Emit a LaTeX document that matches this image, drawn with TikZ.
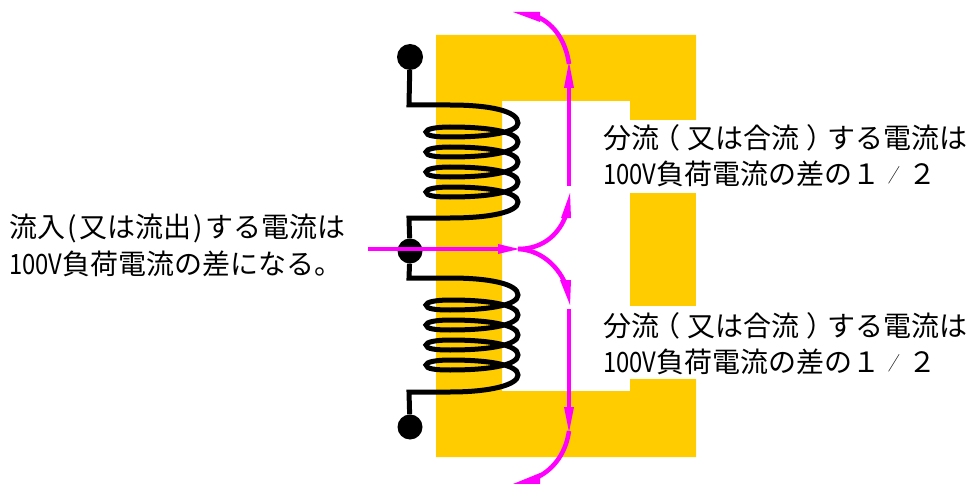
\documentclass[tikz,border=0pt]{standalone}
\usepackage{fontspec}
\setmainfont{Noto Sans CJK JP}
\usetikzlibrary{arrows.meta}
\definecolor{coreY}{HTML}{FFCC00}
\definecolor{flowM}{HTML}{FF00FF}
\newcommand{\nv}[1]{\scalebox{0.85}[1]{#1}}
\newcommand{\flp}{\makebox[28pt][l]{\hspace{-7pt}（}}
\newcommand{\frp}{\makebox[28pt][l]{\hspace{7pt}）}}
\newcommand{\fsl}{\makebox[28pt][c]{\raisebox{2pt}{\scalebox{0.42}[0.68]{／}}}}
\newcommand{\hp}[1]{\makebox[14pt][c]{#1}}
\tikzset{
 x=1pt,y=-1pt,
 core/.style={fill=coreY,draw=none},
 wire/.style={draw=black,line width=5pt,line join=miter},
 term/.style={circle,fill=black,minimum size=25pt,inner sep=0pt},
 flow/.style={draw=flowM,line width=4.5pt},
 fhead/.style={fill=flowM,draw=none},
 lbl/.style={align=left,anchor=north west,inner sep=0pt,font=\fontsize{28pt}{36.5pt}\selectfont,text=black},
}
\begin{document}
\begin{tikzpicture}
\useasboundingbox (0,0) rectangle (972,484);
% core
\fill[core] (436,35) -- (696,35) -- (696,120) -- (630,120) -- (630,101) -- (502,101) -- (502,391) -- (630,391) -- (630,379) -- (696,379) -- (696,457) -- (436,457) -- cycle;
\fill[core] (630,193) rectangle (696,306);
% terminals
\node[term,minimum size=26pt] (t1) at (410,57) {};
\node[term] (t2) at (410,251) {};
\node[term] (t3) at (410,427) {};
% upper coil
\draw[wire] (t1) -- (409,105) -- (450,105)
 .. controls (490,105) and (518,111) .. (518,123)
 .. controls (518,132) and (490,137) .. (450,137)
 .. controls (436,137) and (426,136) .. (426,132)
 .. controls (426,129) and (436,127) .. (450,127)
 .. controls (490,127) and (518,132) .. (518,142)
 .. controls (518,152) and (490,157) .. (450,157)
 .. controls (436,157) and (426,156) .. (426,152)
 .. controls (426,149) and (436,147) .. (450,147)
 .. controls (490,147) and (518,152) .. (518,162)
 .. controls (518,172) and (490,177) .. (450,177)
 .. controls (436,177) and (426,176) .. (426,172)
 .. controls (426,169) and (436,167) .. (450,167)
 .. controls (490,167) and (518,172) .. (518,182)
 .. controls (518,192) and (490,197) .. (450,197)
 .. controls (436,197) and (426,196) .. (426,192)
 .. controls (426,189) and (436,187) .. (450,187)
 .. controls (490,187) and (518,192) .. (518,202)
 .. controls (518,212) and (490,218) .. (450,218)
 -- (409,218) -- (t2);
% lower coil
\draw[wire] (t2) -- (409,278) -- (450,278)
 .. controls (490,278) and (518,284) .. (518,295)
 .. controls (518,305) and (490,310) .. (450,310)
 .. controls (436,310) and (426,309) .. (426,305)
 .. controls (426,302) and (436,300) .. (450,300)
 .. controls (490,300) and (518,305) .. (518,315)
 .. controls (518,325) and (490,330) .. (450,330)
 .. controls (436,330) and (426,329) .. (426,325)
 .. controls (426,322) and (436,320) .. (450,320)
 .. controls (490,320) and (518,325) .. (518,335)
 .. controls (518,345) and (490,350) .. (450,350)
 .. controls (436,350) and (426,349) .. (426,345)
 .. controls (426,342) and (436,340) .. (450,340)
 .. controls (490,340) and (518,345) .. (518,355)
 .. controls (518,365) and (490,370) .. (450,370)
 .. controls (436,370) and (426,369) .. (426,365)
 .. controls (426,362) and (436,360) .. (450,360)
 .. controls (490,360) and (518,365) .. (518,375)
 .. controls (518,385) and (490,392) .. (450,392)
 -- (409,392) -- (t3);
% flows
\coordinate (in) at (368,249);
\coordinate (mid) at (518,249);
\draw[flow] (in) -- (500,249);
\fill[fhead] (498,244) -- (519,249) -- (498,254) -- cycle;
\draw[flow] (mid) .. controls (545,249) and (560,232) .. (566,215);
\fill[fhead] (561,218) -- (570,193) -- (571,218) -- cycle;
\draw[flow] (569,186) -- (569,86);
\fill[fhead] (564,88) -- (569,62) -- (574,88) -- cycle;
\draw[flow] (569,64) .. controls (566,42) and (555,25) .. (538,17);
\fill[fhead] (540,22) -- (513,12) -- (540,12) -- cycle;
\draw[flow] (mid) .. controls (540,250) and (557,265) .. (565,283);
\fill[fhead] (560,280) -- (570,305) -- (571,280) -- cycle;
\draw[flow] (569,309) -- (569,409);
\fill[fhead] (564,407) -- (569,432) -- (574,407) -- cycle;
\draw[flow] (569,431) .. controls (566,452) and (555,468) .. (538,477);
\fill[fhead] (540,473) -- (513,484) -- (540,484) -- cycle;
% labels
\node[lbl] (l1) at (603,124) {分流\flp 又は合流\frp する電流は\\\nv{100V}負荷電流の差の１\fsl ２};
\node[lbl] (l2) at (603,312) {分流\flp 又は合流\frp する電流は\\\nv{100V}負荷電流の差の１\fsl ２};
\node[lbl] (l3) at (9,214) {流入\hp{(}又は流出\hp{)}する電流は\\\nv{100V}負荷電流の差になる。};
\end{tikzpicture}
\end{document}
